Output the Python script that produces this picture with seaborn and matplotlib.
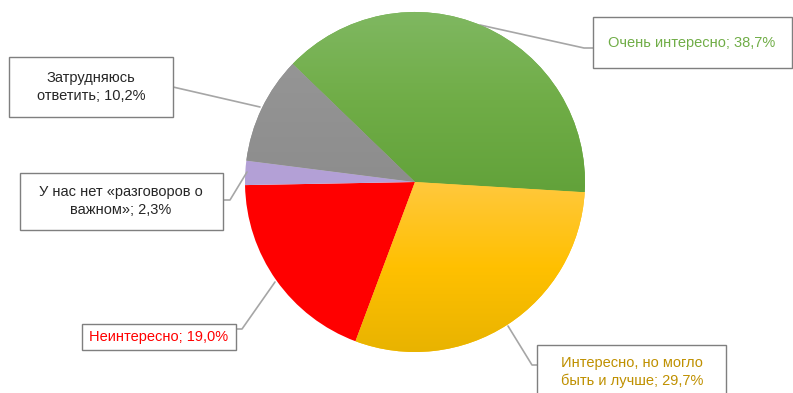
import numpy as np
import matplotlib
matplotlib.use("Agg")
import matplotlib.pyplot as plt
from matplotlib.colors import LinearSegmentedColormap
from matplotlib.patches import Rectangle
import seaborn as sns

# Survey answers, clockwise from the upper-left
categories = ["Очень интересно",
              "Интересно, но могло\nбыть и лучше",
              "Неинтересно",
              "У нас нет «разговоров о\nважном»",
              "Затрудняюсь\nответить"]
shares = [38.7, 29.7, 19.0, 2.3, 10.2]

# Slice colours as (top, middle, bottom) of a soft vertical gradient
slice_colors = [("#80b862", "#70ad47", "#62a23a"),
                ("#ffc83d", "#ffc000", "#e8b300"),
                ("#ff0000", "#ff0000", "#ff0000"),
                ("#b3a0d6", "#b3a0d6", "#b3a0d6"),
                ("#959595", "#919191", "#8d8d8d")]
label_colors = ["#70ad47", "#bf9000", "#ff0000", "#262626", "#262626"]

sns.set_theme(style="white")
plt.rcParams["font.family"] = ["Liberation Sans", "DejaVu Sans"]

W, H = 793, 393
fig = plt.figure(figsize=(W / 100, H / 100), dpi=100)
ax = fig.add_axes([0, 0, 1, 1])


def py(y):
    """Convert a top-down pixel row to the axis y coordinate."""
    return H - y


cx, cy, R = 415, 182, 170
wedges, _ = ax.pie(shares, startangle=136, counterclock=False,
                   center=(cx, py(cy)), radius=R,
                   colors=[c[1] for c in slice_colors],
                   wedgeprops=dict(linewidth=0), frame=True)
ax.set_xlim(0, W)
ax.set_ylim(0, H)
ax.set_aspect("equal")
ax.axis("off")

# Vertical gradient fill over each wedge's own height, clipped to the wedge
grad = np.linspace(0, 1, 256).reshape(-1, 1)
for w, stops in zip(wedges, slice_colors):
    if len(set(stops)) == 1:
        continue
    verts = w.get_patch_transform().transform(w.get_path().vertices)
    x0, y0 = verts.min(axis=0)
    x1, y1 = verts.max(axis=0)
    cmap = LinearSegmentedColormap.from_list("g", list(stops))
    im = ax.imshow(grad, cmap=cmap, aspect="auto",
                   extent=(x0, x1, y0, y1), origin="upper",
                   zorder=w.get_zorder() + 0.1)
    im.set_clip_path(w)
ax.set_xlim(0, W)
ax.set_ylim(0, H)

# Label boxes (x0, y0, x1, y1 in pixel rows), text centres and leader lines
boxes = [(593, 17, 792, 68), (537, 345, 726, 402), (82, 324, 236, 350),
         (20, 173, 223, 230), (9, 57, 173, 117)]
centres = [(692, 43), (632, 372), (159, 337), (121, 201), (91, 87)]
leaders = [[(480, 25), (584, 48), (593, 48)],
           [(508, 326), (532, 365), (537, 365)],
           [(275, 282), (242, 329), (236, 329)],
           [(247, 172), (230, 200), (223, 200)],
           [(260, 107), (173, 87)]]

for name, v, box, (tx, ty), pts, col in zip(categories, shares, boxes,
                                            centres, leaders, label_colors):
    xs = [p[0] for p in pts]
    ys = [py(p[1]) for p in pts]
    ax.plot(xs, ys, color="#a6a6a6", lw=1.2, zorder=1)
    bx0, by0, bx1, by1 = box
    ax.add_patch(Rectangle((bx0, py(by1)), bx1 - bx0, by1 - by0,
                           facecolor="white", edgecolor="#7f7f7f", lw=1.0,
                           zorder=3))
    label = f"{name}; {v:.1f}%".replace(".", ",")
    ax.text(tx, py(ty), label, ha="center", va="center", color=col,
            fontsize=10.5, linespacing=1.3, zorder=4)

fig.savefig("out.png", dpi=100)
